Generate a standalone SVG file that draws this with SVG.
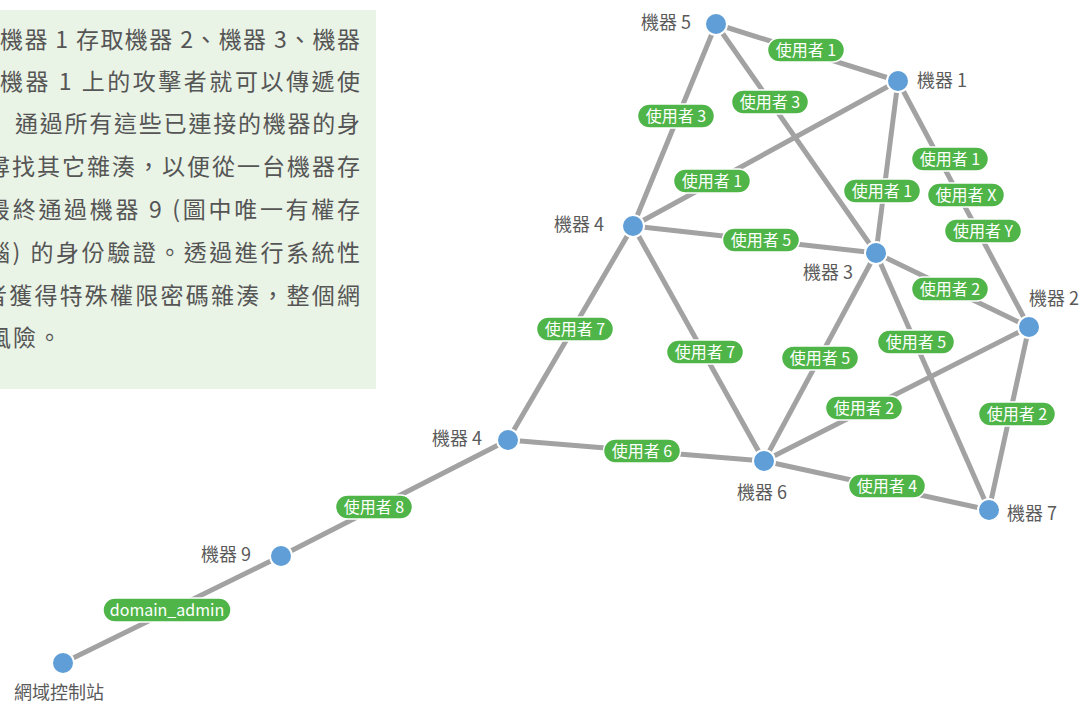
<svg xmlns="http://www.w3.org/2000/svg" width="1082" height="703" viewBox="0 0 1082 703">
<style>
.para{font-family:"Noto Sans CJK TC","Noto Sans",sans-serif;font-size:23px;fill:#555555;}
.edge{stroke:#a2a2a2;stroke-width:5;fill:none;}
.pill{fill:#4fb548;stroke:#ffffff;stroke-width:1.5;}
.pt{font-family:"Noto Sans CJK TC","Noto Sans",sans-serif;font-size:16px;fill:#ffffff;text-anchor:middle;}
.node{fill:#5f9ed6;stroke:#ffffff;stroke-width:2;}
.nl{font-family:"Noto Sans CJK TC","Noto Sans",sans-serif;font-size:18px;fill:#5a5a5a;}
</style>
<rect width="1082" height="703" fill="#ffffff"/>
<g id="textbox">
<rect x="-10" y="10" width="386" height="379" fill="#e9f3e6"/>
<text class="para" x="0" y="48" textLength="360" lengthAdjust="spacing">機器 1 存取機器 2、機器 3、機器</text>
<text class="para" x="0" y="90" textLength="360" lengthAdjust="spacing">機器 1 上的攻擊者就可以傳遞使</text>
<text class="para" x="15" y="132" textLength="345" lengthAdjust="spacing">通過所有這些已連接的機器的身</text>
<text class="para" x="-13" y="175" textLength="373" lengthAdjust="spacing">尋找其它雜湊，以便從一台機器存</text>
<text class="para" x="-13" y="218" textLength="373" lengthAdjust="spacing">最終通過機器 9 (圖中唯一有權存</text>
<text class="para" x="-13" y="261" textLength="373" lengthAdjust="spacing">腦) 的身份驗證。透過進行系統性</text>
<text class="para" x="-16" y="304" textLength="376" lengthAdjust="spacing">者獲得特殊權限密碼雜湊，整個網</text>
<text class="para" x="-12" y="346" letter-spacing="2">風險。</text>
</g>
<g id="connectors">
<line class="edge" x1="716" y1="24" x2="898" y2="81"/>
<line class="edge" x1="716" y1="24" x2="633" y2="226"/>
<line class="edge" x1="716" y1="24" x2="876" y2="253"/>
<line class="edge" x1="898" y1="81" x2="633" y2="226"/>
<line class="edge" x1="898" y1="81" x2="876" y2="253"/>
<line class="edge" x1="898" y1="81" x2="1029" y2="327"/>
<line class="edge" x1="633" y1="226" x2="876" y2="253"/>
<line class="edge" x1="876" y1="253" x2="1029" y2="327"/>
<line class="edge" x1="633" y1="226" x2="508" y2="440"/>
<line class="edge" x1="633" y1="226" x2="764" y2="461"/>
<line class="edge" x1="876" y1="253" x2="764" y2="461"/>
<line class="edge" x1="876" y1="253" x2="989" y2="510"/>
<line class="edge" x1="1029" y1="327" x2="764" y2="461"/>
<line class="edge" x1="1029" y1="327" x2="989" y2="510"/>
<line class="edge" x1="508" y1="440" x2="764" y2="461"/>
<line class="edge" x1="764" y1="461" x2="989" y2="510"/>
<line class="edge" x1="508" y1="440" x2="281" y2="556"/>
<line class="edge" x1="281" y1="556" x2="63" y2="663"/>
<g id="edge-labels">
<rect class="pill" x="767.5" y="38" width="77" height="24" rx="12"/><text class="pt" x="806" y="56">使用者 1</text>
<rect class="pill" x="637.5" y="104" width="77" height="24" rx="12"/><text class="pt" x="676" y="122">使用者 3</text>
<rect class="pill" x="731.5" y="90" width="77" height="24" rx="12"/><text class="pt" x="770" y="108">使用者 3</text>
<rect class="pill" x="673.5" y="169" width="77" height="24" rx="12"/><text class="pt" x="712" y="187">使用者 1</text>
<rect class="pill" x="843.5" y="179" width="77" height="24" rx="12"/><text class="pt" x="882" y="197">使用者 1</text>
<rect class="pill" x="911.5" y="147" width="77" height="24" rx="12"/><text class="pt" x="950" y="165">使用者 1</text>
<rect class="pill" x="927.5" y="183" width="77" height="24" rx="12"/><text class="pt" x="966" y="201">使用者 X</text>
<rect class="pill" x="944.5" y="219" width="77" height="24" rx="12"/><text class="pt" x="983" y="237">使用者 Y</text>
<rect class="pill" x="722.5" y="228" width="77" height="24" rx="12"/><text class="pt" x="761" y="246">使用者 5</text>
<rect class="pill" x="911.5" y="277" width="77" height="24" rx="12"/><text class="pt" x="950" y="295">使用者 2</text>
<rect class="pill" x="536.5" y="317" width="77" height="24" rx="12"/><text class="pt" x="575" y="335">使用者 7</text>
<rect class="pill" x="666.5" y="340" width="77" height="24" rx="12"/><text class="pt" x="705" y="358">使用者 7</text>
<rect class="pill" x="781.5" y="346" width="77" height="24" rx="12"/><text class="pt" x="820" y="364">使用者 5</text>
<rect class="pill" x="877.5" y="330" width="77" height="24" rx="12"/><text class="pt" x="916" y="348">使用者 5</text>
<rect class="pill" x="825.5" y="396" width="77" height="24" rx="12"/><text class="pt" x="864" y="414">使用者 2</text>
<rect class="pill" x="978.5" y="402" width="77" height="24" rx="12"/><text class="pt" x="1017" y="420">使用者 2</text>
<rect class="pill" x="603.5" y="439" width="77" height="24" rx="12"/><text class="pt" x="642" y="457">使用者 6</text>
<rect class="pill" x="848.5" y="474" width="77" height="24" rx="12"/><text class="pt" x="887" y="492">使用者 4</text>
<rect class="pill" x="335.5" y="495" width="77" height="24" rx="12"/><text class="pt" x="374" y="513">使用者 8</text>
<rect class="pill" x="103" y="598" width="128" height="24" rx="12"/><text class="pt" x="167" y="616">domain_admin</text>
</g>
</g>
<g id="m5"><circle class="node" cx="716" cy="24" r="11"/><text class="nl" x="691" y="29" text-anchor="end">機器 5</text></g>
<g id="m1"><circle class="node" cx="898" cy="81" r="11"/><text class="nl" x="917" y="87">機器 1</text></g>
<g id="m4a"><circle class="node" cx="633" cy="226" r="11"/><text class="nl" x="604" y="231" text-anchor="end">機器 4</text></g>
<g id="m3"><circle class="node" cx="876" cy="253" r="11"/><text class="nl" x="853" y="279" text-anchor="end">機器 3</text></g>
<g id="m2"><circle class="node" cx="1029" cy="327" r="11"/><text class="nl" x="1029" y="305">機器 2</text></g>
<g id="m6"><circle class="node" cx="764" cy="461" r="11"/><text class="nl" x="762" y="499" text-anchor="middle">機器 6</text></g>
<g id="m7"><circle class="node" cx="989" cy="510" r="11"/><text class="nl" x="1007" y="520">機器 7</text></g>
<g id="m4b"><circle class="node" cx="508" cy="440" r="11"/><text class="nl" x="482" y="445" text-anchor="end">機器 4</text></g>
<g id="m9"><circle class="node" cx="281" cy="556" r="11"/><text class="nl" x="251" y="561" text-anchor="end">機器 9</text></g>
<g id="dc"><circle class="node" cx="63" cy="663" r="11"/><text class="nl" x="59" y="699" text-anchor="middle">網域控制站</text></g>
</svg>
